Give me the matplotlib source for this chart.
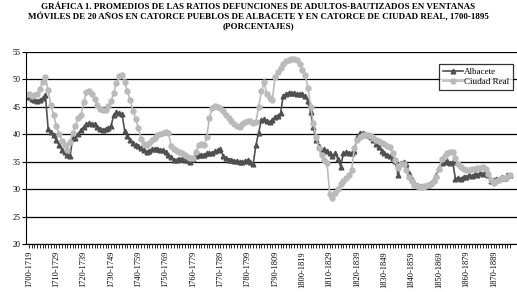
import matplotlib
matplotlib.use('Agg')
import matplotlib.pyplot as plt

# 20-year moving windows, 1700-1719 ... 1876-1895
start_years = list(range(1700, 1877))
windows = [f"{y}-{y + 19}" for y in start_years]

albacete = [
    46.8, 46.5, 46.3, 46.1, 46.2, 46.6, 47.1, 41.0, 40.4, 39.8,
    39.0, 38.0, 37.2, 36.8, 36.2, 36.0, 39.3, 39.4, 40.0, 40.8,
    41.3, 41.8, 42.0, 41.9, 41.8, 41.4, 41.0, 40.8, 41.0, 41.2,
    41.5, 43.5, 44.0, 43.8, 43.7, 40.6, 39.6, 38.9, 38.5, 38.0,
    37.8, 37.5, 37.1, 36.8, 37.0, 37.3, 37.4, 37.4, 37.2, 37.1,
    36.8, 36.3, 35.8, 35.3, 35.3, 35.5, 35.5, 35.3, 35.3, 35.0,
    35.5, 36.1, 36.3, 36.2, 36.3, 36.5, 36.6, 36.6, 36.9, 37.1,
    37.4, 36.0, 35.6, 35.4, 35.3, 35.2, 35.1, 35.0, 34.9, 35.1,
    35.3, 34.9, 34.6, 38.0, 40.3, 42.6, 42.7, 42.4, 42.2, 42.6,
    43.1, 43.4, 43.8, 47.0, 47.4, 47.5, 47.5, 47.5, 47.4, 47.4,
    47.3, 47.0, 46.0, 44.0, 41.4, 38.9, 37.8, 37.0, 37.3, 37.0,
    36.5, 36.0, 36.5, 35.5, 34.1, 36.5, 36.8, 36.6, 36.5, 37.0,
    39.5, 40.2, 40.3, 40.0, 39.8, 39.5, 39.0, 38.3, 37.6, 37.0,
    36.6, 36.3, 36.0, 35.6, 35.2, 32.5, 34.8, 35.0, 34.5, 33.0,
    31.8, 31.0, 30.7, 30.5, 30.5, 30.6, 30.8, 31.1, 31.6, 32.5,
    33.8, 34.8, 34.9, 35.1, 34.8, 34.9, 31.8, 32.1, 31.9, 32.3,
    32.2, 32.5, 32.4, 32.7, 32.6, 32.9, 32.8, 33.2, 32.6, 31.4,
    31.7, 31.9, 31.8, 32.2, 32.1, 32.5, 32.6,
]

ciudad_real = [
    47.3, 47.0, 47.2, 47.4, 48.3, 49.6, 50.4, 48.0, 45.3, 43.5,
    41.5, 40.0, 38.8, 38.0, 37.2, 38.6, 40.3, 41.6, 43.0, 43.5,
    45.8, 47.7, 47.8, 47.3, 46.5, 45.4, 44.7, 44.4, 44.5, 45.1,
    46.0, 47.6, 49.4, 50.6, 50.8, 49.5, 47.8, 46.2, 44.3, 42.8,
    41.2, 39.2, 38.3, 38.1, 38.4, 38.9, 39.4, 39.9, 40.1, 40.3,
    40.4, 40.2, 37.9, 37.3, 37.0, 36.8, 36.5, 36.2, 35.9, 35.7,
    35.7, 36.8, 38.0, 38.3, 38.0, 39.5, 43.0, 44.8, 45.1, 45.0,
    44.8, 44.2, 43.6, 42.9, 42.4, 41.9, 41.5, 41.4, 41.8, 42.3,
    42.5, 42.5, 42.1, 42.3, 45.0, 47.8, 49.5, 47.3, 46.6, 46.2,
    50.5, 51.4, 52.0, 52.8, 53.4, 53.6, 53.8, 53.7, 53.5, 52.8,
    51.8, 50.8, 48.5, 45.0, 42.0, 39.5, 37.5, 36.2, 35.4, 34.8,
    29.2, 28.4, 29.3, 30.0, 30.9, 31.5, 32.0, 32.6, 33.5, 37.5,
    38.9, 39.5, 39.8, 39.9, 39.8, 39.7, 39.4, 39.0, 38.8, 38.5,
    38.2, 37.9, 37.6, 36.5, 35.3, 33.8, 34.6, 34.5, 33.5, 32.3,
    31.5, 30.8, 30.6, 30.4, 30.4, 30.5, 30.7, 31.0, 31.5, 32.3,
    33.6, 35.5, 36.1, 36.5, 36.7, 36.8, 35.6, 34.6, 34.0, 33.6,
    33.5, 33.5, 33.6, 33.7, 33.8, 33.9, 34.0, 33.6, 32.7, 31.7,
    31.2, 31.4, 31.7, 32.0, 32.1, 32.3, 32.5,
]

title = ("GRÁFICA 1. PROMEDIOS DE LAS RATIOS DEFUNCIONES DE ADULTOS-BAUTIZADOS EN VENTANAS\n"
         "MÓVILES DE 20 AÑOS EN CATORCE PUEBLOS DE ALBACETE Y EN CATORCE DE CIUDAD REAL, 1700-1895\n"
         "(PORCENTAJES)")

plt.rcParams['font.family'] = ['Liberation Serif', 'DejaVu Serif']

fig = plt.figure(figsize=(5.17, 2.92), dpi=100)
ax = fig.add_axes([26 / 517, 48 / 292, 491 / 517, 192 / 292])

x = list(range(len(windows)))
ax.plot(x, albacete, color='#505050', marker='^', markersize=3.4,
        linewidth=1.2, label='Albacete')
ax.plot(x, ciudad_real, color='#bababa', marker='o', markersize=3.6,
        linewidth=1.2, label='Ciudad Real')

ax.set_ylim(20, 55)
ax.set_yticks(range(20, 56, 5))
ax.set_xlim(-1.1, 178.5)
ax.yaxis.grid(color='black', linewidth=0.9)
ax.set_axisbelow(True)

ax.set_xticks(x)
ax.set_xticklabels([w if i % 10 == 0 else '' for i, w in enumerate(windows)],
                   rotation=90)
ax.tick_params(axis='x', length=3, width=0.6, labelsize=6, pad=2)
ax.tick_params(axis='y', length=3, width=0.8, labelsize=5.8, pad=1)

ax.spines['right'].set_visible(False)
ax.spines['top'].set_visible(False)
ax.spines['left'].set_color('black')
ax.spines['bottom'].set_color('black')

leg = ax.legend(loc='upper right', bbox_to_anchor=(0.992, 0.9375),
                fontsize=6.5, frameon=True, fancybox=False,
                edgecolor='black', handlelength=2.2, borderpad=0.4,
                labelspacing=0.2, handletextpad=0.2, borderaxespad=0)
leg.get_frame().set_linewidth(0.9)

fig.text(0.5, 1 - 3 / 292, title, ha='center', va='top', fontsize=6.5,
         fontweight='bold', linespacing=1.2)

fig.savefig('out.png', dpi=100)
